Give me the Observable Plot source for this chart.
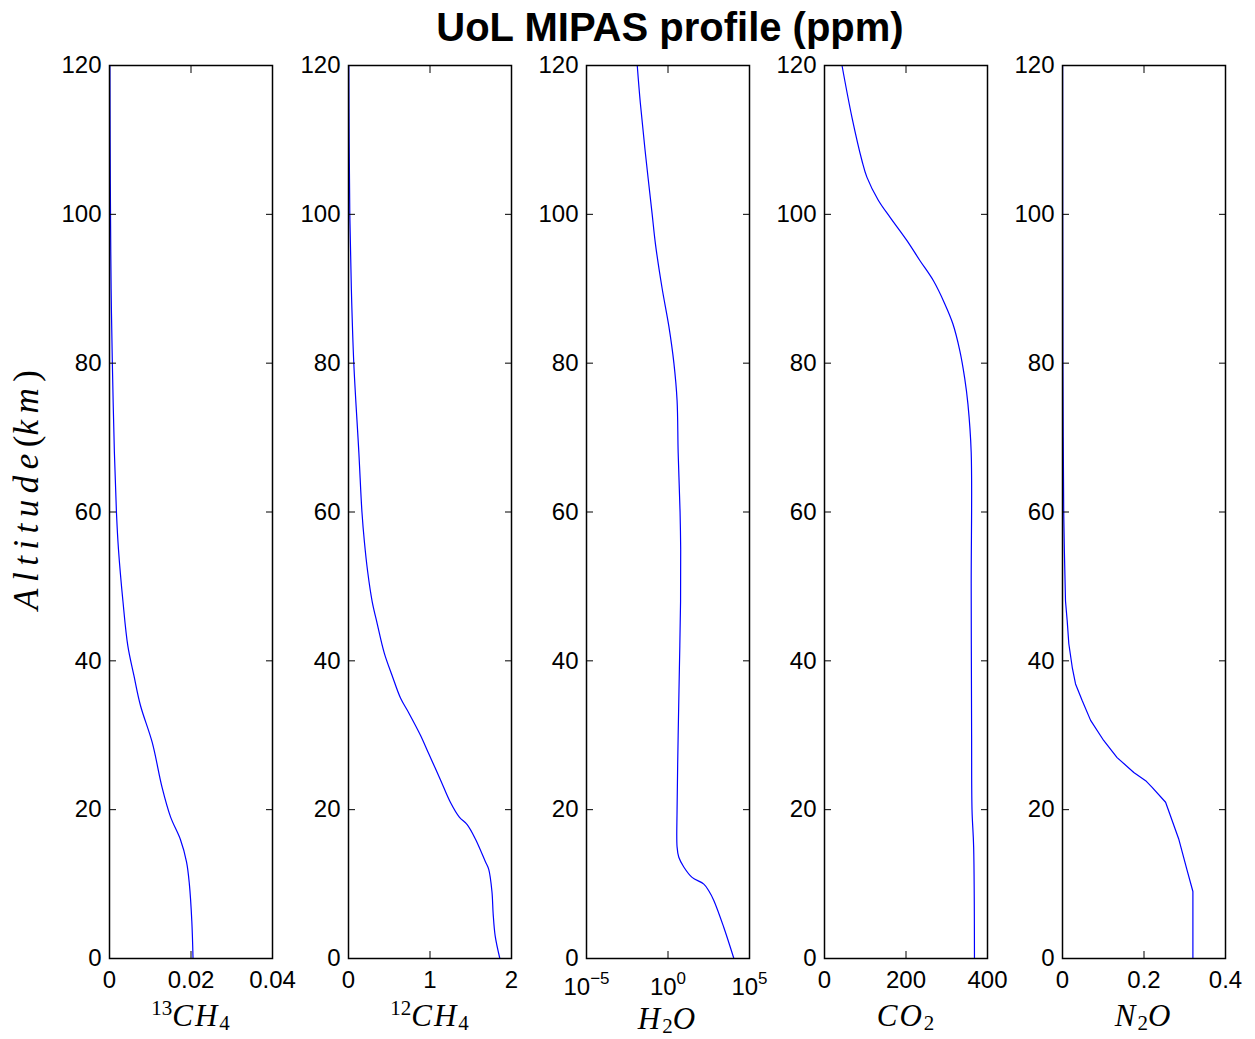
<!DOCTYPE html>
<html><head><meta charset="utf-8">
<script src="https://cdn.jsdelivr.net/npm/d3@7"></script>
<script src="https://cdn.jsdelivr.net/npm/@observablehq/plot@0.6"></script>
<style>
body{margin:0;background:#fff;}
#wrap{position:relative;width:1255px;height:1039px;overflow:hidden;font-family:"Liberation Sans",Arial,sans-serif;background:#fff;}
.title{position:absolute;left:109px;width:1122px;top:7px;text-align:center;font-weight:bold;font-size:40px;line-height:40px;white-space:nowrap;}
.xl{position:absolute;width:220px;text-align:center;font-family:"Liberation Serif","DejaVu Serif",serif;font-size:31px;line-height:31px;white-space:nowrap;}
.xl i,.yl i{font-style:italic;letter-spacing:2px;}
.xl sub,.xl sup{font-size:21px;font-style:normal;line-height:0;}
.xl sub{vertical-align:-0.2em;}
.yl{position:absolute;left:27px;top:490px;transform:translate(-50%,-50%) rotate(-90deg);font-family:"Liberation Serif","DejaVu Serif",serif;font-size:35px;white-space:nowrap;}
.yl i{letter-spacing:6.5px;}
</style></head>
<body><div id="wrap"><div class="title">UoL MIPAS profile (ppm)</div><div class="yl"><i>Altitude</i>(<i>km</i>)</div></div>
<script>
// Altitude ticks (km)
const altTicks = [0, 20, 40, 60, 80, 100, 120];

// 13CH4 (ppm)
const ch4_13_alt = [0, 5, 10, 13, 16, 19, 23, 29, 34, 38, 42, 48, 55, 60, 68, 80, 90, 100, 110, 120];
const ch4_13_ppm = [0.0205, 0.0202, 0.0196, 0.0189, 0.0174, 0.0150, 0.0129, 0.0105, 0.0076, 0.0060, 0.0045, 0.0033, 0.0022, 0.0017, 0.0012, 0.0007, 0.0004, 0.00025, 0.00015, 0.0001];
const ch4_13_ticks = [0, 0.02, 0.04];
const ch4_13_tickLabels = ["0", "0.02", "0.04"];

// 12CH4 (ppm)
const ch4_12_alt = [0, 3, 6, 9, 12, 13, 16, 18, 19, 21, 24, 27.5, 30, 33, 35, 38, 41, 45, 48, 52, 56, 60, 68, 80, 90, 100, 110, 120];
const ch4_12_ppm = [1.857, 1.80, 1.775, 1.76, 1.72, 1.68, 1.56, 1.456, 1.36, 1.25, 1.129, 0.985, 0.883, 0.74, 0.638, 0.536, 0.44, 0.352, 0.29, 0.235, 0.195, 0.165, 0.127, 0.065, 0.035, 0.016, 0.008, 0.004];
const ch4_12_ticks = [0, 1, 2];
const ch4_12_tickLabels = ["0", "1", "2"];

// H2O (ppm, log scale)
const h2o_alt = [0, 4.2, 7.8, 9.1, 10, 10.9, 12.3, 13.6, 15, 20, 30, 39, 48, 55, 60, 68, 75, 80, 85, 90, 96, 100, 108, 115, 120];
const h2o_ppm = [11000, 2630, 646, 316, 158, 30, 9.3, 4.6, 3.6, 3.6, 4.2, 5.0, 5.9, 6.0, 5.5, 4.2, 3.6, 2.3, 1.12, 0.44, 0.17, 0.107, 0.042, 0.020, 0.013];
const h2o_ticks = [1e-5, 1, 1e5];
const h2o_tickLabels = ["10^-5", "10^0", "10^5"];

// CO2 (ppm)
const co2_alt = [0, 15, 20, 30, 50, 68, 74.5, 78, 81.7, 85.3, 88, 91.1, 93.8, 96.5, 99.6, 101.9, 105, 107.2, 113, 120];
const co2_ppm = [368, 366, 362, 361, 360, 360, 352, 344, 332, 315, 295, 267, 234, 202, 161, 132, 104, 92, 67.5, 43];
const co2_ticks = [0, 200, 400];
const co2_tickLabels = ["0", "200", "400"];

// N2O (ppm)
const n2o_alt = [0, 9, 11.8, 16.1, 21, 23, 23.9, 25, 27, 29.3, 32, 34.7, 36.9, 39.1, 42.3, 45.4, 48, 55, 60, 70, 80, 100, 120];
const n2o_ppm = [0.32, 0.32, 0.306, 0.285, 0.253, 0.22, 0.204, 0.175, 0.134, 0.101, 0.069, 0.048, 0.032, 0.024, 0.0155, 0.0115, 0.0074, 0.0045, 0.003, 0.0018, 0.001, 0.0005, 0.0003];
const n2o_ticks = [0, 0.2, 0.4];
const n2o_tickLabels = ["0", "0.2", "0.4"];

const panels = [
  {alt: ch4_13_alt, val: ch4_13_ppm, type: "linear", domain: [0, 0.04], ticks: ch4_13_ticks, labels: ch4_13_tickLabels, curve: "catmull-rom", xlabel: '<sup>13</sup><i>CH</i><sub>4</sub>', labelTop: 1000},
  {alt: ch4_12_alt, val: ch4_12_ppm, type: "linear", domain: [0, 2], ticks: ch4_12_ticks, labels: ch4_12_tickLabels, curve: "catmull-rom", xlabel: '<sup>12</sup><i>CH</i><sub>4</sub>', labelTop: 1000},
  {alt: h2o_alt, val: h2o_ppm, type: "log", domain: [1e-5, 1e5], ticks: h2o_ticks, labels: h2o_tickLabels, curve: "catmull-rom", xlabel: '<i>H</i><sub>2</sub><i>O</i>', labelTop: 1003},
  {alt: co2_alt, val: co2_ppm, type: "linear", domain: [0, 400], ticks: co2_ticks, labels: co2_tickLabels, curve: "catmull-rom", xlabel: '<i>CO</i><sub>2</sub>', labelTop: 1000},
  {alt: n2o_alt, val: n2o_ppm, type: "linear", domain: [0, 0.4], ticks: n2o_ticks, labels: n2o_tickLabels, curve: "linear", xlabel: '<i>N</i><sub>2</sub><i>O</i>', labelTop: 1000}
];

const wrap = document.getElementById("wrap");
const frameLeft = [109, 348, 586, 824, 1062];
const frameW = 163, frameTop = 65, frameH = 893;
const mL = 60, mR = 30, mT = 20, mB = 50;
const ns = "http://www.w3.org/2000/svg";

panels.forEach((p, i) => {
  const data = p.alt.map((a, j) => ({alt: a, v: p.val[j]}));
  const fmt = d => {
    const k = p.ticks.findIndex(t => Math.abs(t - d) <= Math.abs(d) * 1e-9 + 1e-12);
    return k >= 0 ? p.labels[k] : "";
  };
  const isLog = p.type === "log";
  const chart = Plot.plot({
    width: frameW + mL + mR,
    height: frameH + mT + mB,
    marginLeft: mL, marginRight: mR, marginTop: mT, marginBottom: mB,
    style: {background: "transparent", overflow: "visible", fontFamily: "'Liberation Sans', Arial, sans-serif", fontSize: "24px", color: "black"},
    x: {type: p.type, domain: p.domain},
    y: {domain: [0, 120]},
    marks: [
      Plot.line(data, {x: "v", y: "alt", stroke: "#0000ff", strokeWidth: 1.2, curve: p.curve}),
      Plot.axisX(p.ticks, {anchor: "bottom", tickSize: 0, tickPadding: isLog ? 19 : 12, tickFormat: fmt, label: null}),
      Plot.axisX(p.ticks, {anchor: "bottom", tickSize: -7, tickFormat: () => "", label: null}),
      Plot.axisX(p.ticks, {anchor: "top", tickSize: -7, tickFormat: () => "", label: null}),
      Plot.axisY(altTicks, {anchor: "left", tickSize: 0, tickPadding: 8, label: null}),
      Plot.axisY(altTicks, {anchor: "left", tickSize: -7, tickFormat: () => "", label: null}),
      Plot.axisY(altTicks, {anchor: "right", tickSize: -7, tickFormat: () => "", label: null}),
      Plot.frame({stroke: "black", strokeWidth: 1.5})
    ]
  });
  chart.style.position = "absolute";
  chart.style.left = (frameLeft[i] - mL) + "px";
  chart.style.top = (frameTop - mT) + "px";
  chart.style.maxWidth = "none";
  // superscripts for log tick labels
  chart.querySelectorAll("text").forEach(t => {
    const s = t.textContent;
    if (s.includes("^")) {
      const [b, e] = s.split("^");
      t.textContent = "";
      const tb = document.createElementNS(ns, "tspan");
      tb.textContent = b;
      const te = document.createElementNS(ns, "tspan");
      te.textContent = e.replace("-", "\u2212");
      te.setAttribute("dy", "-0.6em");
      te.setAttribute("font-size", "17");
      t.appendChild(tb); t.appendChild(te);
    }
  });
  wrap.appendChild(chart);

  const lab = document.createElement("div");
  lab.className = "xl";
  lab.innerHTML = p.xlabel;
  lab.style.left = (frameLeft[i] + frameW / 2 - 110) + "px";
  lab.style.top = p.labelTop + "px";
  wrap.appendChild(lab);
});
</script></body></html>
